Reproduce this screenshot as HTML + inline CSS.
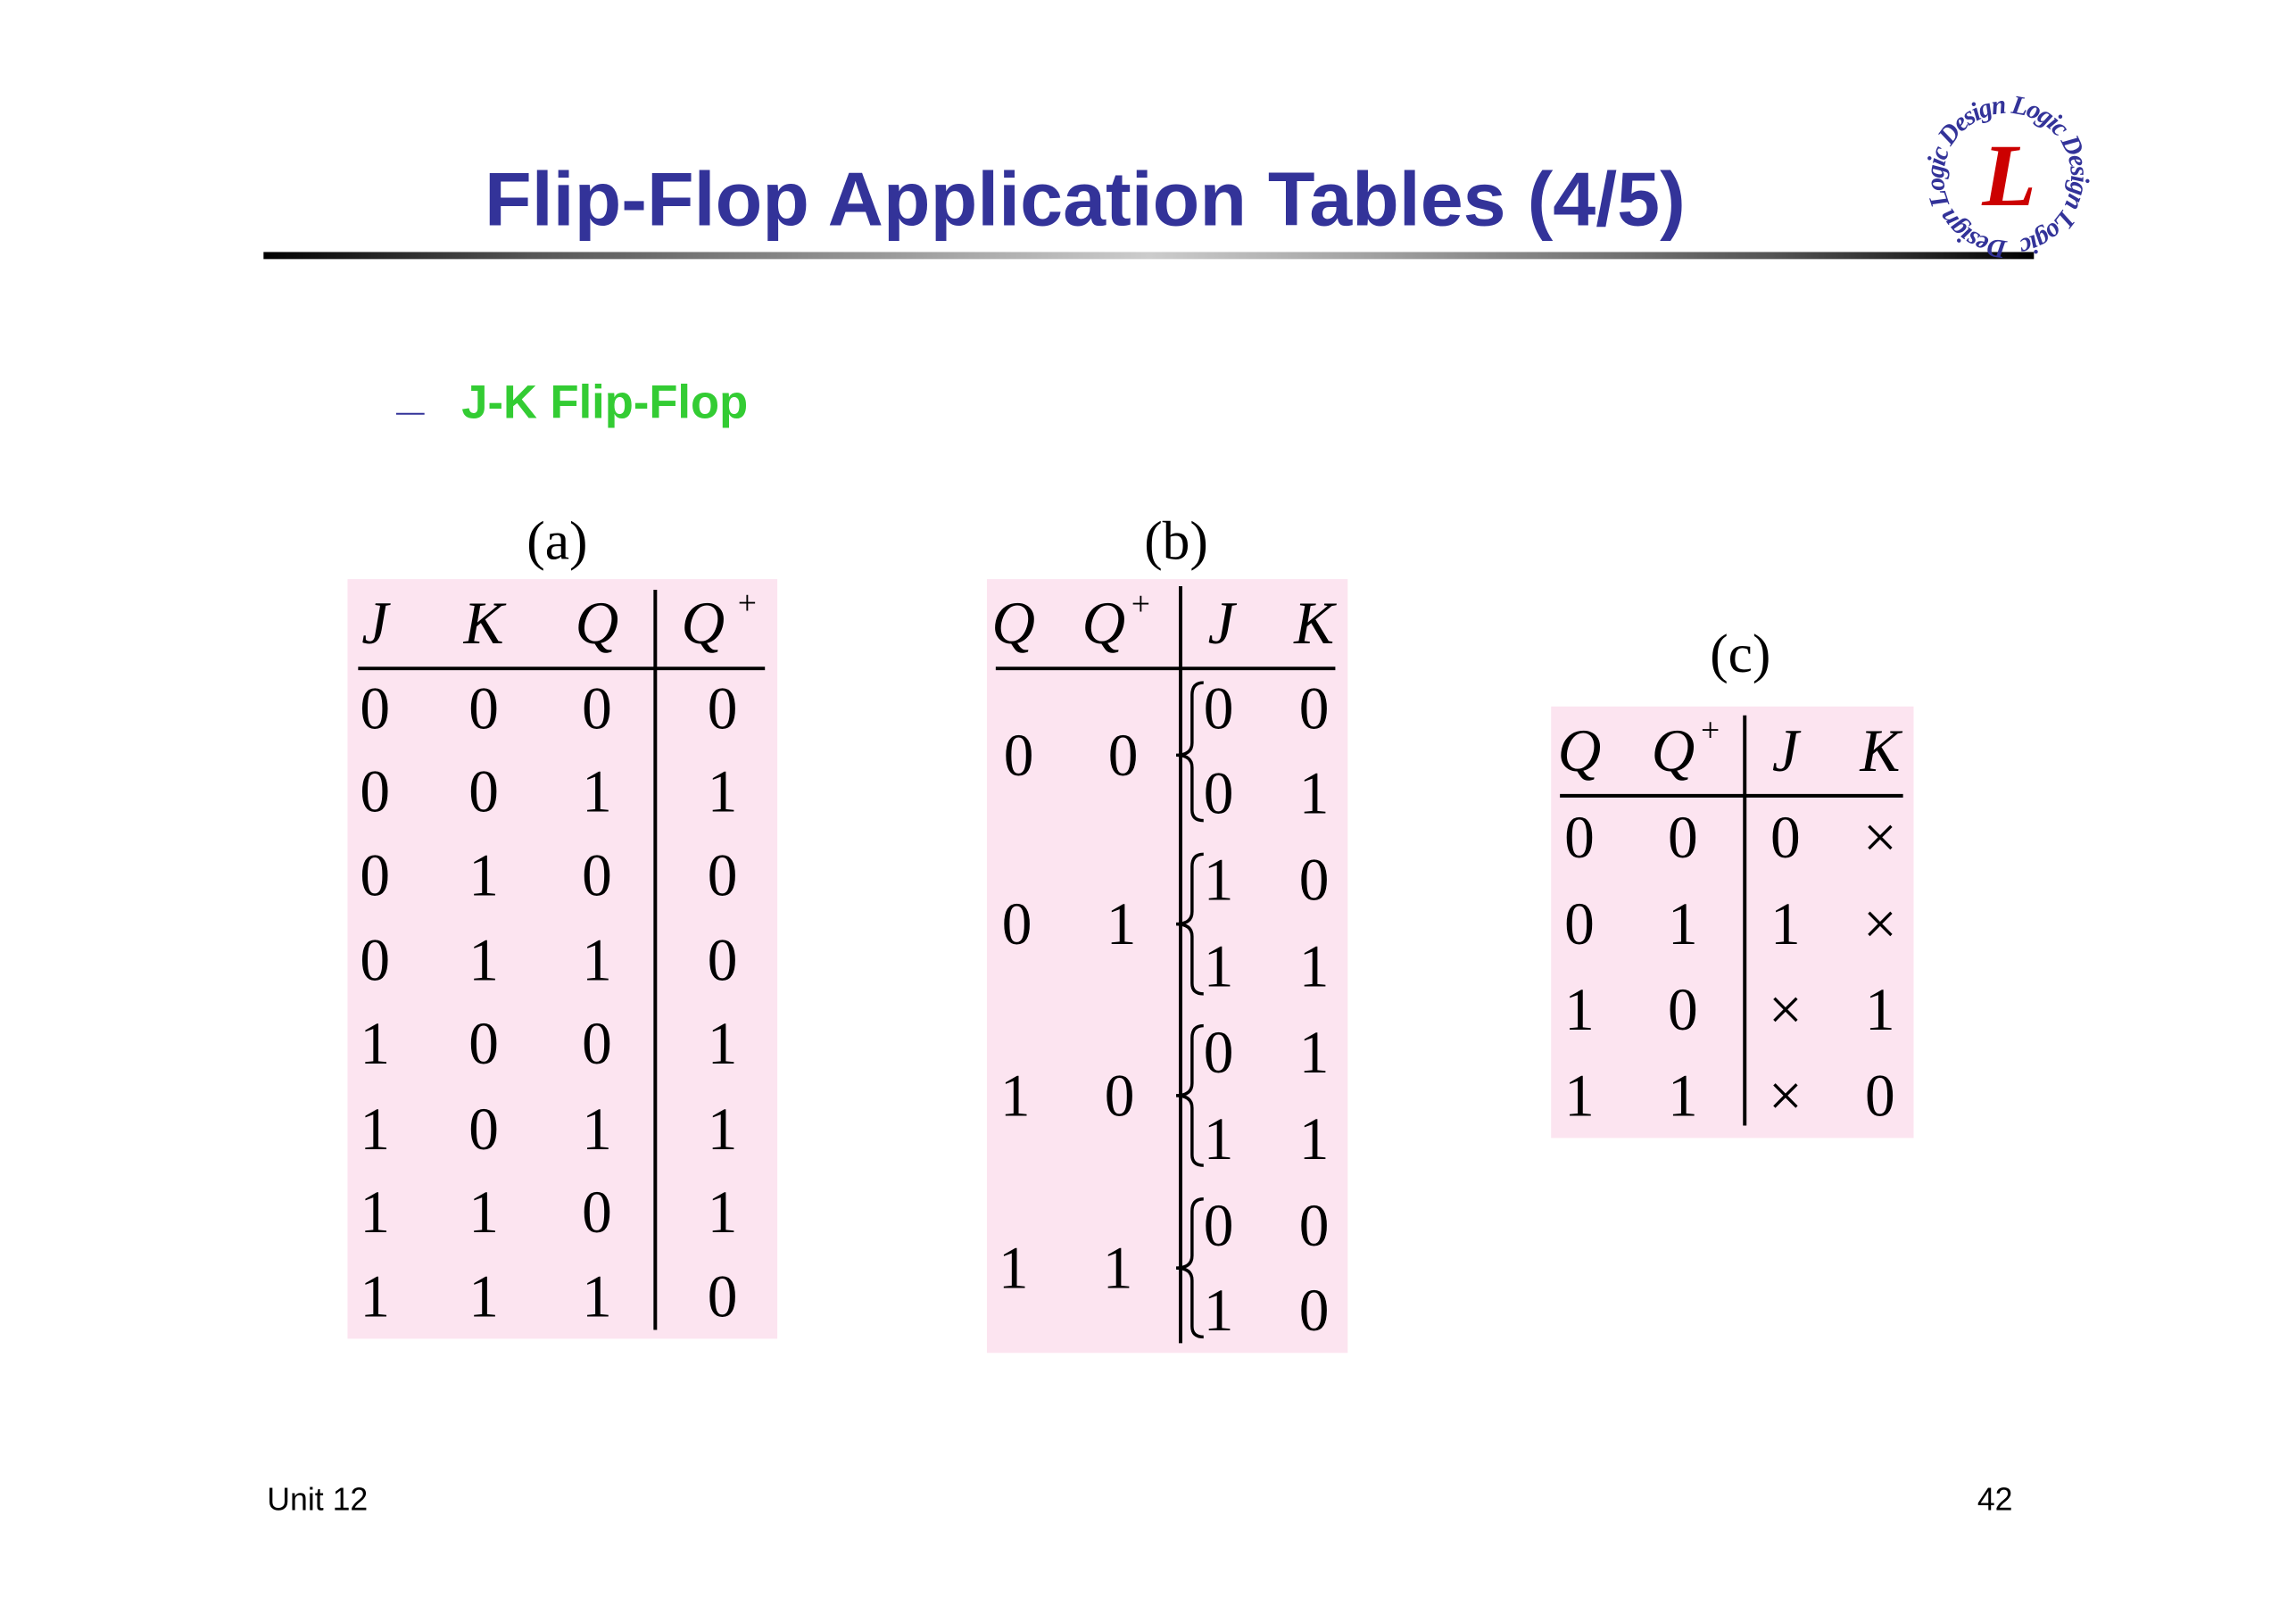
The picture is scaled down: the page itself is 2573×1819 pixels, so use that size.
<!DOCTYPE html>
<html><head><meta charset="utf-8"><style>
html,body{margin:0;padding:0;background:#fff;}
svg{display:block}
</style></head><body>
<svg width="2573" height="1819" viewBox="0 0 2573 1819" xmlns="http://www.w3.org/2000/svg">
<defs>
<linearGradient id="bar" x1="0" x2="1" y1="0" y2="0">
<stop offset="0" stop-color="#000"/><stop offset="0.15" stop-color="#555"/><stop offset="0.5" stop-color="#ccc"/><stop offset="0.85" stop-color="#555"/><stop offset="1" stop-color="#000"/>
</linearGradient>
<path id="ring" d="M2270,272 A72,72 0 1,1 2270.1,272"/>
</defs>
<g transform="scale(0.991)">
<text x="548" y="255" font-family="Liberation Sans, sans-serif" font-weight="bold" font-size="86" fill="#333399" textLength="1358" lengthAdjust="spacingAndGlyphs">Flip-Flop Application Tables (4/5)</text>
<rect x="298" y="285" width="2002" height="8" fill="url(#bar)"/>
<!-- logo -->
<g font-family="Liberation Serif, serif" font-style="italic" fill="#333399">
<text x="2272" y="232" text-anchor="middle" font-size="100" fill="#cc0000" font-weight="bold">L</text>
<text font-size="30" font-weight="bold"><textPath href="#ring" textLength="440">Design Logic Design Logic Design Logic</textPath></text>
</g>
<line x1="448" y1="468" x2="480" y2="468" stroke="#333399" stroke-width="2"/>
<text x="522" y="473" font-family="Liberation Sans, sans-serif" font-weight="bold" font-size="53" fill="#33cc33">J-K Flip-Flop</text>

<g font-family="Liberation Serif, serif" font-size="62" fill="#000" text-anchor="middle">
<text x="630" y="632">(a)</text>
<text x="1330" y="632">(b)</text>
<text x="1968" y="760">(c)</text>
</g>

<rect x="393" y="655" width="486" height="859" fill="#fce4f0"/>
<rect x="1116" y="655" width="408" height="875" fill="#fce4f0"/>
<rect x="1754" y="799" width="410" height="488" fill="#fce4f0"/>

<g stroke="#000" stroke-width="4">
<line x1="405" y1="756" x2="865" y2="756"/>
<line x1="741" y1="667" x2="741" y2="1504"/>
<line x1="1126" y1="756" x2="1510" y2="756"/>
<line x1="1335" y1="663" x2="1335" y2="1519"/>
<line x1="1764" y1="900" x2="2152" y2="900"/>
<line x1="1973" y1="809" x2="1973" y2="1273"/>
</g>

<g font-family="Liberation Serif, serif" font-size="68" fill="#000" text-anchor="middle" dominant-baseline="central">
<g font-style="italic">
<text x="424" y="705">J</text><text x="547" y="705">K</text><text x="675" y="705">Q</text><text x="795" y="705">Q</text>
</g>
<text x="845" y="682" font-size="38">+</text>
<g>
<text x="424" y="801">0</text><text x="547" y="801">0</text><text x="675" y="801">0</text><text x="817" y="801">0</text>
<text x="424" y="895">0</text><text x="547" y="895">0</text><text x="675" y="895">1</text><text x="817" y="895">1</text>
<text x="424" y="990">0</text><text x="547" y="990">1</text><text x="675" y="990">0</text><text x="817" y="990">0</text>
<text x="424" y="1086">0</text><text x="547" y="1086">1</text><text x="675" y="1086">1</text><text x="817" y="1086">0</text>
<text x="424" y="1180">1</text><text x="547" y="1180">0</text><text x="675" y="1180">0</text><text x="817" y="1180">1</text>
<text x="424" y="1277">1</text><text x="547" y="1277">0</text><text x="675" y="1277">1</text><text x="817" y="1277">1</text>
<text x="424" y="1371">1</text><text x="547" y="1371">1</text><text x="675" y="1371">0</text><text x="817" y="1371">1</text>
<text x="424" y="1466">1</text><text x="547" y="1466">1</text><text x="675" y="1466">1</text><text x="817" y="1466">0</text>
</g>
<g font-style="italic">
<text x="1146" y="705">Q</text><text x="1248" y="705">Q</text><text x="1381" y="705">J</text><text x="1486" y="705">K</text>
</g>
<text x="1290" y="683" font-size="38">+</text>
<text x="1152" y="854">0</text><text x="1270" y="854">0</text>
<text x="1150" y="1045">0</text><text x="1268" y="1045">1</text>
<text x="1148" y="1239">1</text><text x="1266" y="1239">0</text>
<text x="1146" y="1434">1</text><text x="1264" y="1434">1</text>
<text x="1378" y="801">0</text><text x="1486" y="801">0</text>
<text x="1378" y="897">0</text><text x="1486" y="897">1</text>
<text x="1378" y="995">1</text><text x="1486" y="995">0</text>
<text x="1378" y="1093">1</text><text x="1486" y="1093">1</text>
<text x="1378" y="1190">0</text><text x="1486" y="1190">1</text>
<text x="1378" y="1288">1</text><text x="1486" y="1288">1</text>
<text x="1378" y="1386">0</text><text x="1486" y="1386">0</text>
<text x="1378" y="1482">1</text><text x="1486" y="1482">0</text>
<g font-style="italic">
<text x="1786" y="849">Q</text><text x="1892" y="849">Q</text><text x="2019" y="849">J</text><text x="2126" y="849">K</text>
</g>
<text x="1934" y="826" font-size="38">+</text>
<text x="1786" y="947">0</text><text x="1903" y="947">0</text><text x="2019" y="947">0</text><text x="2126" y="947">×</text>
<text x="1786" y="1045">0</text><text x="1903" y="1045">1</text><text x="2019" y="1045">1</text><text x="2126" y="1045">×</text>
<text x="1786" y="1142">1</text><text x="1903" y="1142">0</text><text x="2019" y="1142">×</text><text x="2126" y="1142">1</text>
<text x="1786" y="1239">1</text><text x="1903" y="1239">1</text><text x="2019" y="1239">×</text><text x="2126" y="1239">0</text>
</g>

<g fill="none" stroke="#000" stroke-width="3.5">
<path d="M1361,772 Q1348,772 1348,786 L1348,840 Q1348,854 1330,854 Q1348,854 1348,868 L1348,916 Q1348,928 1361,928"/>
<path d="M1361,966 Q1348,966 1348,980 L1348,1031 Q1348,1045 1330,1045 Q1348,1045 1348,1059 L1348,1112 Q1348,1124 1361,1124"/>
<path d="M1361,1160 Q1348,1160 1348,1174 L1348,1225 Q1348,1239 1330,1239 Q1348,1239 1348,1253 L1348,1306 Q1348,1318 1361,1318"/>
<path d="M1361,1356 Q1348,1356 1348,1370 L1348,1420 Q1348,1434 1330,1434 Q1348,1434 1348,1448 L1348,1500 Q1348,1512 1361,1512"/>
</g>

<g font-family="Liberation Sans, sans-serif" font-size="36" fill="#000">
<text x="302" y="1708">Unit 12</text>
<text x="2276" y="1708" text-anchor="end">42</text>
</g>
</g>
</svg>
</body></html>
